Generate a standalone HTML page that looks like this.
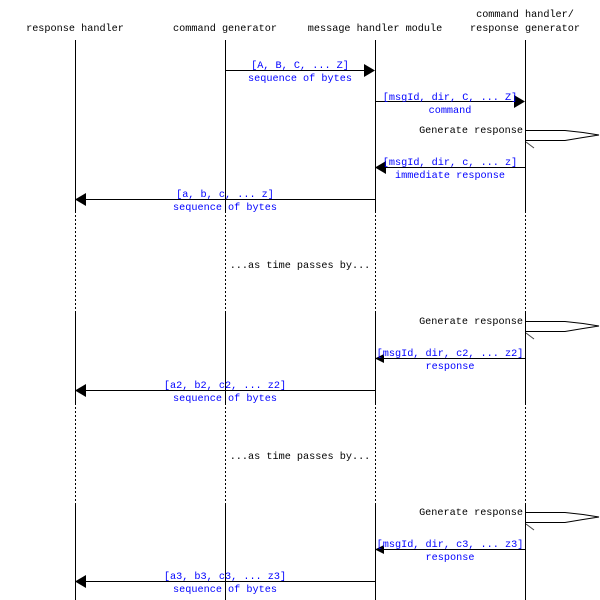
<!DOCTYPE html>
<html><head><meta charset="utf-8"><style>
html,body{margin:0;padding:0;background:#fff;}
svg{display:block;}
text{font-family:"Liberation Mono",monospace;font-size:10.2px;}
.b{fill:#0000ff;}
.k{fill:#000;}
</style></head><body>
<svg width="600" height="600" viewBox="0 0 600 600" xmlns="http://www.w3.org/2000/svg">
<g stroke="#000" stroke-width="1" fill="none">
<!-- lifelines -->
<g id="ll">
<path d="M75.5 40V211M75.5 313V403M75.5 504V600"/>
<path d="M75.5 211V313M75.5 403V504" stroke-dasharray="2,2"/>
</g>
<use href="#ll" x="150"/><use href="#ll" x="300"/><use href="#ll" x="450"/>
<!-- arrows -->
<path d="M225 70.5H366"/>
<path d="M375 101.5H516"/>
<path d="M525 167.5H384"/>
<path d="M375 199.5H84"/>
<path d="M525 358.5H384"/>
<path d="M375 390.5H84"/>
<path d="M525 549.5H384"/>
<path d="M375 581.5H84"/>
<!-- self loops -->
<g id="sl">
<path d="M525 130.5H565L583 132.5L599 135L583 137.5L565 140.5H525"/>
<path d="M526 142L534 148" stroke="#444"/>
</g>
<use href="#sl" y="191"/><use href="#sl" y="382"/>
</g>
<g fill="#000">
<path d="M375 70.5L364 64V77Z"/>
<path d="M525 101.5L514 95V108Z"/>
<path d="M375 167.5L386 161V174Z"/>
<path d="M75 199.5L86 193V206Z"/>
<path d="M375 358.5L384 354V363Z"/>
<path d="M75 390.5L86 384V397Z"/>
<path d="M375 549.5L384 545V554Z"/>
<path d="M75 581.5L86 575V588Z"/>
</g>
<g text-anchor="middle" class="k">
<text x="75" y="31">response handler</text>
<text x="225" y="31">command generator</text>
<text x="375" y="31">message handler module</text>
<text x="525" y="17">command handler/</text>
<text x="525" y="31">response generator</text>
<text x="300" y="268">...as time passes by...</text>
<text x="300" y="459">...as time passes by...</text>
</g>
<g text-anchor="end" class="k">
<text x="523" y="133">Generate response</text>
<text x="523" y="324">Generate response</text>
<text x="523" y="515">Generate response</text>
</g>
<g text-anchor="middle" class="b">
<text x="300" y="68">[A, B, C, ... Z]</text>
<text x="300" y="81">sequence of bytes</text>
<text x="450" y="100">[msgId, dir, C, ... Z]</text>
<text x="450" y="113">command</text>
<text x="450" y="165">[msgId, dir, c, ... z]</text>
<text x="450" y="178">immediate response</text>
<text x="225" y="197">[a, b, c, ... z]</text>
<text x="225" y="210">sequence of bytes</text>
<text x="450" y="356">[msgId, dir, c2, ... z2]</text>
<text x="450" y="369">response</text>
<text x="225" y="388">[a2, b2, c2, ... z2]</text>
<text x="225" y="401">sequence of bytes</text>
<text x="450" y="547">[msgId, dir, c3, ... z3]</text>
<text x="450" y="560">response</text>
<text x="225" y="579">[a3, b3, c3, ... z3]</text>
<text x="225" y="592">sequence of bytes</text>
</g>
</svg>
</body></html>
